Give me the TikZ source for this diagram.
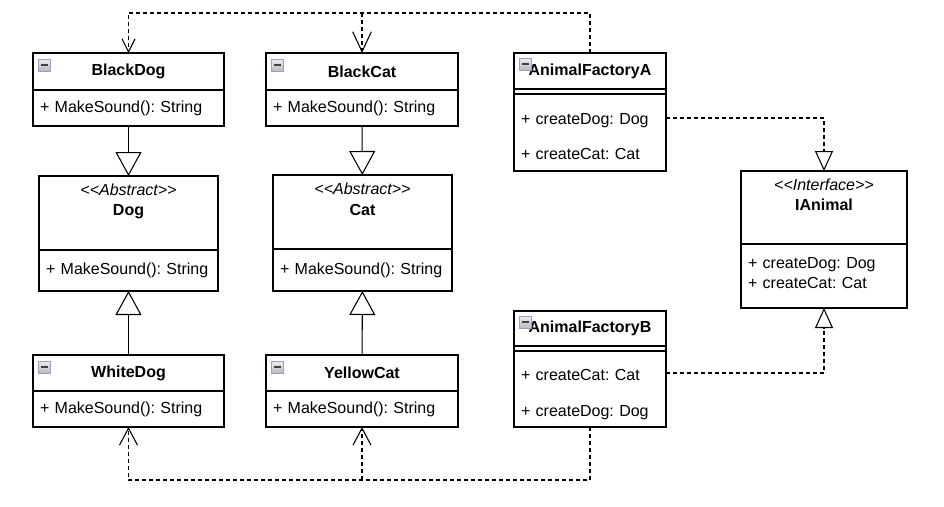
\documentclass[tikz,border=0pt]{standalone}
\usepackage{fontspec}
\setmainfont{Liberation Sans}
\usetikzlibrary{arrows.meta, positioning}
\def\px{0.75pt}
\newcommand{\umlfont}{\fontsize{12}{14.4}\selectfont\frenchspacing}
\tikzset{
    classhead/.style={
        rectangle,
        draw=black,
        line width=1pt,
        fill=white,
        inner sep=0pt,
        outer sep=0pt,
        anchor=north west,
        font=\umlfont\bfseries
    },
    classbody/.style={
        rectangle,
        draw=black,
        line width=1pt,
        fill=white,
        inner xsep=7*\px,
        inner ysep=0pt,
        outer sep=0pt,
        align=left,
        font=\umlfont
    },
    stereo/.style={
        font=\umlfont\itshape,
        inner sep=0pt
    },
    cname/.style={
        font=\umlfont\bfseries,
        inner sep=0pt
    },
    minusicon/.style={
        rectangle,
        anchor=north west,
        minimum size=12*\px,
        inner sep=0pt,
        draw=gray!70!blue!60,
        top color=gray!15,
        bottom color=gray!55,
        path picture={
            \draw[line width=1.3pt, black!75]
                ([xshift=2pt]path picture bounding box.west) --
                ([xshift=-2pt]path picture bounding box.east);
        }
    },
    inheritarrow/.style={
        -{Triangle[open, length=18pt, width=19.5pt]},
        line width=0.8pt
    },
    realizearrow/.style={
        -{Triangle[open, length=15pt, width=13.5pt]},
        line width=0.8pt,
        dash pattern=on 3pt off 2.25pt
    },
    depline/.style={
        line width=0.8pt,
        dash pattern=on 3pt off 2.25pt
    }
}

\begin{document}
\begin{tikzpicture}[x=0.75pt, y=-0.75pt, font=\umlfont]
    \useasboundingbox (0,0) rectangle (944,506);

    % dog side
    \node[classhead, minimum width=191*\px, minimum height=37*\px] (blackdogH) at (33,53) {BlackDog};
    \node[classbody, below=0pt of blackdogH, text width=177*\px, minimum height=36*\px] (blackdogB) {+ MakeSound(): String};

    \node[classhead, minimum width=179*\px, minimum height=74*\px] (dogH) at (39,176) {};
    \node[stereo, below=14*\px of dogH.north, anchor=center] (dogS) {<\kern0pt<Abstract>\kern0pt>};
    \node[cname, below=36*\px of dogH.north, anchor=center] (dogN) {Dog};
    \node[classbody, below=0pt of dogH, text width=165*\px, minimum height=41*\px] (dogB) {+ MakeSound(): String};

    \node[classhead, minimum width=191*\px, minimum height=36*\px] (whitedogH) at (33,355) {WhiteDog};
    \node[classbody, below=0pt of whitedogH, text width=177*\px, minimum height=36*\px] (whitedogB) {+ MakeSound(): String};

    % cat side
    \node[classhead, minimum width=192*\px, minimum height=37*\px] (blackcatH) at (266,53) {BlackCat};
    \node[classbody, below=0pt of blackcatH, text width=178*\px, minimum height=36*\px] (blackcatB) {+ MakeSound(): String};

    \node[classhead, minimum width=179*\px, minimum height=74*\px] (catH) at (273,175) {};
    \node[stereo, below=14*\px of catH.north, anchor=center] (catS) {<\kern0pt<Abstract>\kern0pt>};
    \node[cname, below=35*\px of catH.north, anchor=center] (catN) {Cat};
    \node[classbody, below=0pt of catH, text width=165*\px, minimum height=42*\px] (catB) {+ MakeSound(): String};

    \node[classhead, minimum width=192*\px, minimum height=36*\px] (yellowcatH) at (266,355) {YellowCat};
    \node[classbody, below=0pt of yellowcatH, text width=178*\px, minimum height=36*\px] (yellowcatB) {+ MakeSound(): String};

    % factories
    \node[classhead, minimum width=152*\px, minimum height=36*\px] (factAH) at (514,53) {AnimalFactoryA};
    \node[classbody, below=0pt of factAH, text width=138*\px, minimum height=5*\px] (factAS) {};
    \node[classbody, below=0pt of factAS, text width=138*\px, minimum height=77*\px, text depth=21pt] (factAB) {+ createDog: Dog\\[12.3pt]+ createCat: Cat};

    \node[classhead, minimum width=152*\px, minimum height=35*\px] (factBH) at (514,311) {AnimalFactoryB};
    \node[classbody, below=0pt of factBH, text width=138*\px, minimum height=5*\px] (factBS) {};
    \node[classbody, below=0pt of factBS, text width=138*\px, minimum height=76*\px, text depth=21pt] (factBB) {+ createCat: Cat\\[12.3pt]+ createDog: Dog};

    % interface
    \node[classhead, minimum width=166*\px, minimum height=73*\px] (ianimalH) at (741,171) {};
    \node[stereo, below=14*\px of ianimalH.north, anchor=center] (ianimalS) {<\kern0pt<Interface>\kern0pt>};
    \node[cname, below=34*\px of ianimalH.north, anchor=center] (ianimalN) {IAnimal};
    \node[classbody, below=0pt of ianimalH, text width=152*\px, minimum height=64*\px, text depth=19pt] (ianimalB) {+ createDog: Dog\\+ createCat: Cat};

    % collapse icons
    \node[minusicon, xshift=5*\px, yshift=-6*\px] (bdicon) at (blackdogH.north west) {};
    \node[minusicon, xshift=5*\px, yshift=-6*\px] (bcicon) at (blackcatH.north west) {};
    \node[minusicon, xshift=5*\px, yshift=-6*\px] (wdicon) at (whitedogH.north west) {};
    \node[minusicon, xshift=5*\px, yshift=-6*\px] (ycicon) at (yellowcatH.north west) {};
    \node[minusicon, xshift=5*\px, yshift=-5*\px] (faicon) at (factAH.north west) {};
    \node[minusicon, xshift=5*\px, yshift=-5*\px] (fbicon) at (factBH.north west) {};

    % inheritance
    \draw[inheritarrow] (blackdogB) -- (dogH);
    \draw[inheritarrow] (whitedogH) -- (dogB);
    \draw[inheritarrow] (blackcatB) -- (catH);
    \draw[inheritarrow] (yellowcatH) -- (catB);

    % factory dependencies
    \coordinate (topline) at (362,13);
    \coordinate (botline) at (362,480);
    \draw[depline, -{Straight Barb[length=9.75pt, width=9.75pt]}] (factAH.north) -- ++(0,-40) -| (blackdogH.north);
    \draw[depline, -{Straight Barb[length=15pt, width=14pt]}] (topline) -- (blackcatH.north);
    \draw[depline, -{Straight Barb[length=12.75pt, width=13.5pt]}] (factBB.south) -- ++(0,53) -| (whitedogB.south);
    \draw[depline, -{Straight Barb[length=12.75pt, width=13.5pt]}] (botline) -- (yellowcatB.south);

    % realization
    \draw[realizearrow] ([yshift=-24*\px]factAB.north east) -| (ianimalH.north);
    \draw[realizearrow] ([yshift=-22*\px]factBB.north east) -| (ianimalB.south);
\end{tikzpicture}
\end{document}
